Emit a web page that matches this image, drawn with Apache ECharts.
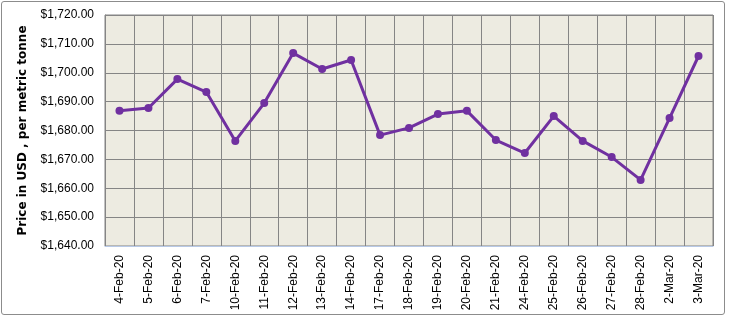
<!DOCTYPE html>
<html>
<head>
<meta charset="utf-8">
<script src="https://cdn.jsdelivr.net/npm/echarts@6/dist/echarts.min.js"></script>
<style>
  html, body { margin: 0; padding: 0; background: #fff; }
  #frame {
    position: absolute; left: 1px; top: 1px; width: 724px; height: 314px;
    border: 1px solid #8c8c8c; border-radius: 3px; box-sizing: border-box;
  }
  #chart { position: absolute; left: 0; top: 0; width: 729px; height: 319px; }
</style>
</head>
<body>
<div id="frame"></div>
<div id="chart"></div>
<script>
const dates = ["4-Feb-20", "5-Feb-20", "6-Feb-20", "7-Feb-20", "10-Feb-20", "11-Feb-20", "12-Feb-20",
  "13-Feb-20", "14-Feb-20", "17-Feb-20", "18-Feb-20", "19-Feb-20", "20-Feb-20", "21-Feb-20",
  "24-Feb-20", "25-Feb-20", "26-Feb-20", "27-Feb-20", "28-Feb-20", "2-Mar-20", "3-Mar-20"];
const prices = [1686.8, 1687.8, 1697.8, 1693.3, 1676.4, 1689.5, 1706.8,
  1701.3, 1704.4, 1678.4, 1680.9, 1685.7, 1686.8, 1676.7,
  1672.2, 1685.0, 1676.4, 1670.8, 1662.9, 1684.3, 1705.8];
const yMin = 1640, yMax = 1720, yStep = 10;
const yTitle = "Price in USD , per metric tonne";

const chart = echarts.init(document.getElementById("chart"));

function money(v) {
  return "$" + v.toLocaleString("en-US", { minimumFractionDigits: 2, maximumFractionDigits: 2 });
}

chart.setOption({
  animation: false,
  grid: {
    left: 105, right: 16, top: 15, bottom: 73,
    show: true, backgroundColor: "#EDEBE1", borderColor: "#858585", borderWidth: 1
  },
  xAxis: {
    type: "category",
    data: dates,
    boundaryGap: true,
    axisLine: { lineStyle: { color: "#B7C8E6", width: 1 } },
    axisTick: { show: false },
    splitLine: { show: true, lineStyle: { color: "#858585", width: 1 } },
    axisLabel: {
      rotate: 90, interval: 0, margin: 9,
      fontFamily: "Liberation Sans, Arial, sans-serif", fontSize: 12, color: "#000"
    }
  },
  yAxis: {
    type: "value",
    min: yMin, max: yMax, interval: yStep,
    name: yTitle,
    nameLocation: "middle",
    nameGap: 76,
    nameTextStyle: { fontFamily: "DejaVu Sans, sans-serif", fontWeight: "bold", fontSize: 12, color: "#000" },
    axisLine: { show: true, lineStyle: { color: "#858585" } },
    axisTick: { show: false },
    splitLine: { lineStyle: { color: "#858585", width: 1 } },
    axisLabel: {
      formatter: money, margin: 11,
      fontFamily: "Liberation Sans, Arial, sans-serif", fontSize: 12, color: "#000"
    }
  },
  series: [{
    type: "line",
    data: prices,
    symbol: "circle",
    symbolSize: 8,
    lineStyle: { color: "#7030A0", width: 3 },
    itemStyle: { color: "#7030A0" }
  }]
});
</script>
</body>
</html>
